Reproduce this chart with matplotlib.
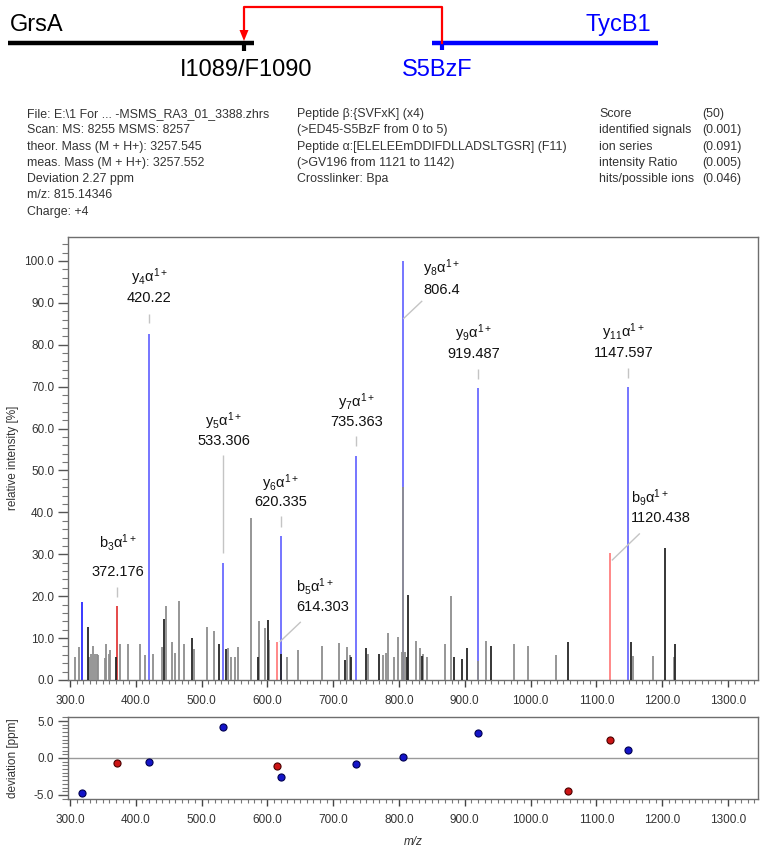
import matplotlib
matplotlib.use('Agg')
import matplotlib.pyplot as plt
from matplotlib.ticker import MultipleLocator, FormatStrFormatter
from matplotlib.patches import Polygon
import numpy as np

plt.rcParams['font.family'] = ['Liberation Sans', 'DejaVu Sans']
plt.rcParams['mathtext.fontset'] = 'custom'
plt.rcParams['mathtext.rm'] = 'Liberation Sans'
plt.rcParams['mathtext.it'] = 'Liberation Sans:italic'
plt.rcParams['mathtext.bf'] = 'Liberation Sans:bold'

# ---------------- data ----------------
peak_mz = [307.0, 313.0, 318.5, 327.0, 328.5, 332.0, 334.5, 338.0, 341.5, 343.0,
           352.7, 354.7, 358.8, 361.0, 370.0, 372.176, 375.5, 387.7, 407.0, 414.5,
           420.22, 426.0, 440.0, 443.3, 445.4, 455.0, 459.0, 466.0, 472.8, 485.4,
           489.0, 508.0, 519.0, 527.0, 533.306, 537.0, 540.6, 544.0, 551.0, 556.0,
           574.6, 585.0, 586.7, 596.0, 601.4, 603.0, 614.303, 620.335, 620.7, 630.0,
           647.0, 682.4, 708.8, 718.0, 720.5, 725.0, 727.0, 735.363, 750.0, 753.0,
           769.6, 776.0, 779.8, 782.8, 792.4, 799.0, 804.0, 806.4, 806.4, 809.6,
           812.6, 814.0, 825.3, 832.0, 835.5, 836.5, 842.0, 870.0, 878.5, 884.0,
           896.0, 903.0, 919.487, 919.487, 932.0, 940.0, 975.0, 995.6, 1038.6, 1056.4,
           1120.438, 1147.597, 1152.0, 1156.0, 1185.5, 1204.0, 1218.5, 1219.0]
peak_int = [5.6, 7.9, 18.5, 12.7, 5.6, 6.1, 8.1, 6.3, 6.1, 6.0,
            5.2, 8.6, 6.3, 7.2, 5.6, 17.7, 8.6, 8.6, 8.6, 6.0,
            82.6, 6.1, 7.9, 14.5, 17.7, 9.0, 6.5, 18.9, 8.6, 10.1,
            7.4, 12.7, 11.7, 8.5, 28.0, 7.4, 7.6, 5.6, 5.6, 7.9,
            38.6, 5.6, 14.1, 12.3, 14.3, 9.5, 9.1, 34.4, 6.1, 5.6,
            7.2, 8.1, 8.9, 4.8, 7.9, 6.0, 5.6, 53.5, 7.6, 6.3,
            6.1, 6.0, 6.5, 11.3, 5.6, 10.3, 6.8, 100.0, 46.0, 6.8,
            5.6, 20.3, 9.3, 7.6, 5.7, 6.1, 5.6, 8.5, 20.0, 5.6,
            5.0, 7.7, 69.6, 4.6, 9.3, 8.1, 8.7, 8.1, 6.0, 9.1,
            30.2, 69.8, 9.1, 5.7, 5.7, 31.4, 5.5, 8.5]
# g = unassigned grey, k = unassigned dark, b/B = y ions, r/R = b ions
peak_kind = ['g', 'g', 'B', 'k', 'g', 'g', 'g', 'g', 'g', 'g',
             'g', 'g', 'g', 'g', 'k', 'R', 'g', 'g', 'g', 'g',
             'b', 'g', 'g', 'k', 'g', 'g', 'g', 'g', 'g', 'k',
             'g', 'g', 'g', 'k', 'b', 'k', 'g', 'g', 'g', 'g',
             'g', 'k', 'g', 'g', 'k', 'g', 'r', 'b', 'k', 'g',
             'g', 'g', 'g', 'k', 'g', 'g', 'k', 'b', 'k', 'g',
             'k', 'g', 'g', 'g', 'g', 'g', 'g', 'b', 'g', 'g',
             'k', 'k', 'g', 'g', 'k', 'g', 'g', 'g', 'g', 'k',
             'k', 'k', 'b', 'g', 'g', 'k', 'g', 'g', 'g', 'k',
             'r', 'b', 'k', 'g', 'g', 'k', 'g', 'k']

label_ion = ['b$_\\mathregular{3}$α$^\\mathregular{1+}$', 'y$_\\mathregular{4}$α$^\\mathregular{1+}$',
             'y$_\\mathregular{5}$α$^\\mathregular{1+}$', 'b$_\\mathregular{5}$α$^\\mathregular{1+}$',
             'y$_\\mathregular{6}$α$^\\mathregular{1+}$', 'y$_\\mathregular{7}$α$^\\mathregular{1+}$',
             'y$_\\mathregular{8}$α$^\\mathregular{1+}$', 'y$_\\mathregular{9}$α$^\\mathregular{1+}$',
             'b$_\\mathregular{9}$α$^\\mathregular{1+}$', 'y$_\\mathregular{11}$α$^\\mathregular{1+}$']
label_num = ['372.176', '420.22', '533.306', '614.303', '620.335', '735.363', '806.4',
             '919.487', '1120.438', '1147.597']
label_mz = [372.176, 420.22, 533.306, 614.303, 620.335, 735.363, 806.4, 919.487, 1120.438, 1147.597]
label_int = [17.7, 82.6, 28.0, 9.1, 34.4, 53.5, 100.0, 69.6, 30.2, 69.8]

dev_mz = [318.5, 372.176, 420.22, 533.306, 614.303, 620.335, 735.363, 806.4, 919.487,
          1056.4, 1120.438, 1147.597]
dev_ppm = [-4.68, -0.63, -0.5, 4.23, -1.04, -2.57, -0.77, 0.18, 3.42, -4.5, 2.43, 1.04]
dev_kind = ['b', 'r', 'b', 'b', 'r', 'b', 'b', 'b', 'b', 'r', 'r', 'b']

info_col1 = [r"File: E:\1 For ... -MSMS_RA3_01_3388.zhrs", "Scan: MS: 8255 MSMS: 8257",
             "theor. Mass (M + H+): 3257.545", "meas. Mass (M + H+): 3257.552",
             "Deviation 2.27 ppm", "m/z: 815.14346", "Charge: +4"]
info_col2 = ["Peptide β:{SVFxK] (x4)", "(>ED45-S5BzF from 0 to 5)",
             "Peptide α:[ELELEEmDDIFDLLADSLTGSR] (F11)", "(>GV196 from 1121 to 1142)",
             "Crosslinker: Bpa"]
score_names = ["Score", "identified signals", "ion series", "intensity Ratio", "hits/possible ions"]
score_vals = ["(50)", "(0.001)", "(0.091)", "(0.005)", "(0.046)"]

# ---------------- layout ----------------
W, H = 779, 850
fig = plt.figure(figsize=(W / 100, H / 100), dpi=100)
fx = lambda x: x / W
fy = lambda y: 1 - y / H

XMIN, XMAX = 297.0, 1345.6
TXT = '#333333'
FS = 8.5

ax = fig.add_axes([fx(68), fy(680), 690 / W, (680 - 237) / H])
dax = fig.add_axes([fx(68), fy(799), 690 / W, (799 - 717) / H])

colors = {'g': '#8e8e8e', 'k': '#262626', 'b': '#6a6aff', 'B': '#2a2aff',
          'r': '#ff7f7f', 'R': '#e33a3a'}
pm = np.array(peak_mz); pi = np.array(peak_int); pk = np.array(peak_kind)
for kinds, z in ((('b', 'B', 'r', 'R'), 2), (('g', 'k'), 3)):
    for k in kinds:
        m = pk == k
        if m.any():
            ax.vlines(pm[m], 0, pi[m], colors=colors[k], lw=1.3, zorder=z)

ax.set_xlim(XMIN, XMAX)
ax.set_ylim(0, 105.7)
ax.xaxis.set_major_locator(MultipleLocator(100))
ax.xaxis.set_minor_locator(MultipleLocator(10))
ax.yaxis.set_major_locator(MultipleLocator(10))
ax.yaxis.set_minor_locator(MultipleLocator(2))
ax.xaxis.set_major_formatter(FormatStrFormatter('%.1f'))
ax.yaxis.set_major_formatter(FormatStrFormatter('%.1f'))
for a in (ax, dax):
    a.tick_params(axis='y', which='major', length=7, width=1, pad=3, labelsize=FS,
                  colors='#555555', labelcolor=TXT)
    a.tick_params(axis='y', which='minor', length=4, width=0.8, colors='#777777')
    a.tick_params(axis='x', which='major', length=5, width=1, pad=6, labelsize=FS,
                  colors='#444444', labelcolor=TXT)
    a.tick_params(axis='x', which='minor', length=3, width=0.8, colors='#777777')
    for s in a.spines.values():
        s.set_color('#6e6e6e')
        s.set_linewidth(1)

# annotations: layout offsets in pixels relative to the peak top
lab_layout = [  # (text dx, ha, ion dy, num dy, leader start, leader end)
    (0, 'center', 63, 34, (0, 9), (0, 19)),
    (0, 'center', 57, 36, (0, 11), (0, 20)),
    (0, 'center', 141, 122, (0, 10), (0, 108)),
    (19, 'left', 55, 35, (3, 0), (24, 20)),
    (0, 'center', 53, 34, (0, 9), (0, 20)),
    (0, 'center', 54, 34, (0, 10), (0, 20)),
    (20, 'left', -7, -29, (0, -58), (19, -40)),
    (-4, 'center', 55, 34, (0, 9), (0, 19)),
    (21, 'left', 56, 35, (2, -7), (30, 20)),
    (-4, 'center', 55, 34, (0, 9), (0, 19)),
]
fig.canvas.draw()
for ion, num, mz, it, lay in zip(label_ion, label_num, label_mz, label_int, lab_layout):
    dx, ha, idy, ndy, l0, l1 = lay
    ax.annotate(ion, (mz, it), xytext=(dx, idy), textcoords='offset pixels',
                ha=ha, va='center', fontsize=10.5, color='#111111', zorder=5)
    ax.annotate(num, (mz, it), xytext=(dx, ndy), textcoords='offset pixels',
                ha=ha, va='center', fontsize=10.5, color='#111111', zorder=5)
    # leader line
    p0 = ax.transData.transform((mz, it))
    inv = ax.transData.inverted()
    a0 = inv.transform((p0[0] + l0[0], p0[1] + l0[1]))
    a1 = inv.transform((p0[0] + l1[0], p0[1] + l1[1]))
    ax.plot([a0[0], a1[0]], [a0[1], a1[1]], color='#c4c4c4', lw=1, zorder=4,
            solid_capstyle='butt')

# deviation plot
dax.axhline(0, color='#9a9a9a', lw=1, zorder=1)
dm = np.array(dev_mz); dp = np.array(dev_ppm); dk = np.array(dev_kind)
for k, fc, ec in (('b', '#1414c8', '#000050'), ('r', '#cc1414', '#4a0000')):
    m = dk == k
    dax.scatter(dm[m], dp[m], s=26, facecolor=fc, edgecolor=ec, linewidth=0.8, zorder=3)
dax.set_xlim(XMIN, XMAX)
dax.set_ylim(-5.55, 5.55)
dax.xaxis.set_major_locator(MultipleLocator(100))
dax.xaxis.set_minor_locator(MultipleLocator(10))
dax.yaxis.set_major_locator(MultipleLocator(5))
dax.yaxis.set_minor_locator(MultipleLocator(0.5))
dax.xaxis.set_major_formatter(FormatStrFormatter('%.1f'))
dax.yaxis.set_major_formatter(FormatStrFormatter('%.1f'))

fig.text(fx(13), fy(458), 'relative intensity [%]', rotation=90, ha='center', va='center',
         fontsize=FS, color=TXT)
fig.text(fx(13), fy(758), 'deviation [ppm]', rotation=90, ha='center', va='center',
         fontsize=FS, color=TXT)
fig.text(fx(413), fy(842), 'm/z', ha='center', va='center', fontsize=FS, color=TXT,
         style='italic')

# header info
HF = 8.9
for i, s in enumerate(info_col1):
    fig.text(fx(27), fy(114 + 16.3 * i), s, ha='left', va='center', fontsize=HF, color=TXT)
for i, s in enumerate(info_col2):
    fig.text(fx(297), fy(114 + 16.3 * i), s, ha='left', va='center', fontsize=HF, color=TXT)
for i, (n, v) in enumerate(zip(score_names, score_vals)):
    fig.text(fx(599), fy(114 + 16.3 * i), n, ha='left', va='center', fontsize=HF, color=TXT)
    fig.text(fx(702), fy(114 + 16.3 * i), v, ha='left', va='center', fontsize=HF, color=TXT)

# crosslink schematic (pixel coordinates overlay)
sax = fig.add_axes([0, 0, 1, 1], zorder=-1)
sax.set_xlim(0, W); sax.set_ylim(H, 0); sax.axis('off')
sax.plot([8, 254], [43, 43], color='black', lw=3.2, solid_capstyle='butt')
sax.plot([244, 244], [43, 51], color='black', lw=3, solid_capstyle='butt')
sax.plot([432, 658], [43, 43], color='#0000ff', lw=3.2, solid_capstyle='butt')
sax.plot([442, 442], [43, 50], color='#0000ff', lw=3, solid_capstyle='butt')
sax.plot([442, 442, 244, 244], [43, 7, 7, 31], color='#ff0000', lw=1.6)
sax.add_patch(Polygon([[239.5, 30], [248.5, 30], [244, 41]], closed=True,
                      facecolor='#ff0000', edgecolor='none'))
sax.text(10, 25, 'GrsA', ha='left', va='center', fontsize=17, color='black')
sax.text(651, 25, 'TycB1', ha='right', va='center', fontsize=17, color='#0000ff')
sax.text(246, 70, 'I1089/F1090', ha='center', va='center', fontsize=17, color='black')
sax.text(437, 70, 'S5BzF', ha='center', va='center', fontsize=17, color='#0000ff')

fig.savefig('out.png', dpi=100)
